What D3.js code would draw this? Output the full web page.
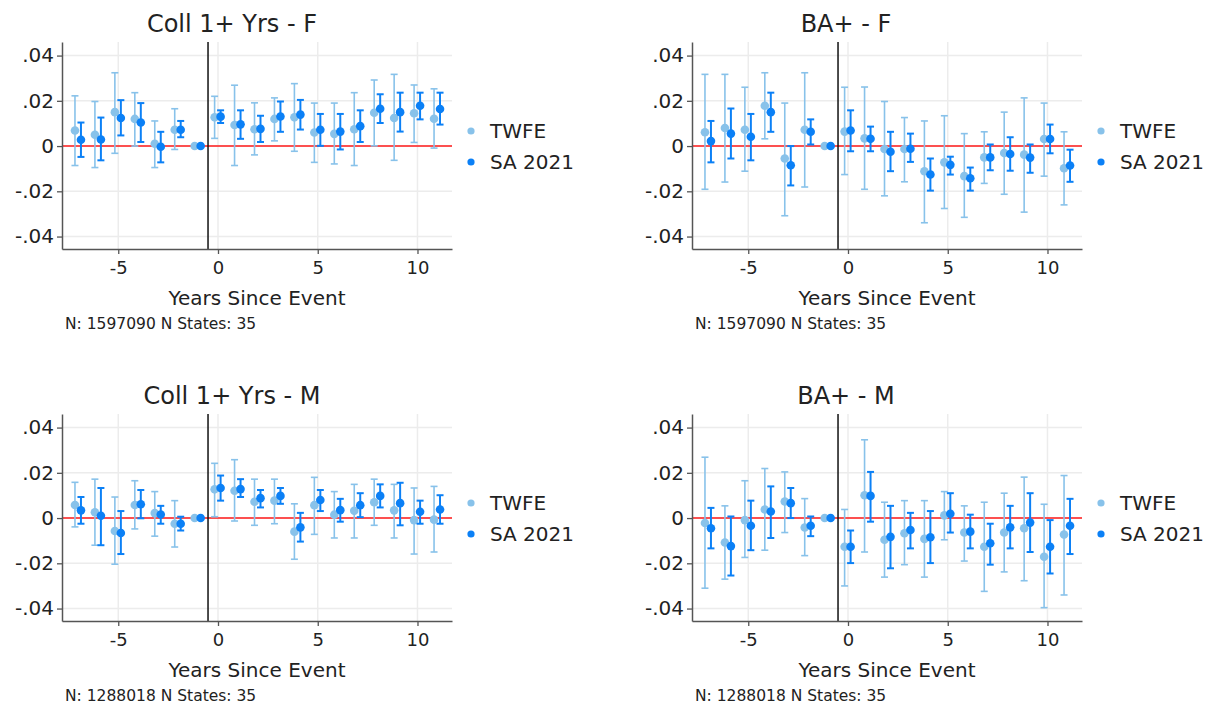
<!DOCTYPE html>
<html>
<head>
<meta charset="utf-8">
<script src="https://cdn.jsdelivr.net/npm/d3@7"></script>
<style>
  body { margin: 0; background: #fff; }
  text { font-family: "DejaVu Sans", sans-serif; fill: #222; }
</style>
</head>
<body>
<script>
// event-time grid
var years = [-7, -6, -5, -4, -3, -2, -1, 0, 1, 2, 3, 4, 5, 6, 7, 8, 9, 10, 11];
var seriesNames = ["TWFE", "SA 2021"];
var panelTitles = ["Coll 1+ Yrs - F", "BA+ - F", "Coll 1+ Yrs - M", "BA+ - M"];
var panelNotes = ["N: 1597090 N States: 35", "N: 1597090 N States: 35",
                  "N: 1288018 N States: 35", "N: 1288018 N States: 35"];
var xTickValues = [-5, 0, 5, 10];
var xTickLabels = ["-5", "0", "5", "10"];
var yTickValues = [-0.04, -0.02, 0, 0.02, 0.04];
var yTickLabels = ["-.04", "-.02", "0", ".02", ".04"];

// Coll 1+ Yrs - F
var collF_twfe    = [.0069, .0050, .0150, .0120, .0010, .0072, 0, .0127, .0093, .0074, .0120, .0127, .0060, .0054, .0074, .0147, .0124, .0145, .0121];
var collF_twfe_lo = [-.0086, -.0095, -.0032, .0000, -.0095, -.0015, null, .0034, -.0086, -.0039, .0023, -.0023, -.0072, -.0079, -.0086, .0001, -.0063, .0016, -.0009];
var collF_twfe_hi = [.0222, .0197, .0324, .0236, .0111, .0165, null, .0220, .0269, .0191, .0213, .0276, .0190, .0190, .0236, .0292, .0317, .0270, .0253];
var collF_sa      = [.0028, .0029, .0124, .0104, -.0003, .0072, 0, .0130, .0096, .0076, .0131, .0139, .0072, .0064, .0088, .0165, .0150, .0178, .0164];
var collF_sa_lo   = [-.0048, -.0063, .0047, .0018, -.0072, .0039, null, .0102, .0032, .0018, .0063, .0073, .0001, -.0015, .0018, .0102, .0064, .0118, .0095];
var collF_sa_hi   = [.0104, .0126, .0203, .0190, .0063, .0111, null, .0158, .0158, .0134, .0197, .0204, .0142, .0142, .0158, .0229, .0236, .0236, .0236];

// BA+ - F
var baF_twfe    = [.0061, .0080, .0072, .0178, -.0055, .0072, 0, .0064, .0034, -.0013, -.0013, -.0111, -.0072, -.0133, -.0050, -.0031, -.0038, .0031, -.0098];
var baF_twfe_lo = [-.0191, -.0159, -.0111, .0032, -.0308, -.0181, null, -.0126, -.0191, -.0220, -.0158, -.0339, -.0276, -.0315, -.0165, -.0213, -.0292, -.0133, -.0260];
var baF_twfe_hi = [.0317, .0317, .0260, .0324, .0190, .0324, null, .0260, .0261, .0197, .0126, .0111, .0134, .0055, .0063, .0150, .0213, .0190, .0063];
var baF_sa      = [.0022, .0055, .0041, .0150, -.0085, .0063, 0, .0069, .0032, -.0025, -.0012, -.0126, -.0083, -.0142, -.0050, -.0035, -.0051, .0031, -.0086];
var baF_sa_lo   = [-.0072, -.0055, -.0063, .0063, -.0174, .0007, null, -.0023, -.0023, -.0111, -.0070, -.0197, -.0126, -.0197, -.0107, -.0109, -.0118, -.0032, -.0158];
var baF_sa_hi   = [.0111, .0166, .0142, .0236, .0000, .0118, null, .0158, .0086, .0063, .0055, -.0055, -.0047, -.0095, .0007, .0039, .0007, .0095, -.0016];

// Coll 1+ Yrs - M
var collM_twfe    = [.0058, .0026, -.0057, .0058, .0022, -.0025, 0, .0127, .0121, .0072, .0077, -.0060, .0057, .0015, .0032, .0070, .0034, -.0009, -.0007];
var collM_twfe_lo = [-.0039, -.0120, -.0204, -.0048, -.0080, -.0128, null, .0006, -.0013, -.0032, -.0025, -.0182, -.0072, -.0088, -.0088, -.0032, -.0088, -.0159, -.0150];
var collM_twfe_hi = [.0158, .0172, .0093, .0165, .0117, .0077, null, .0242, .0258, .0172, .0172, .0063, .0180, .0117, .0149, .0172, .0149, .0133, .0140];
var collM_sa      = [.0034, .0010, -.0066, .0061, .0016, -.0025, 0, .0133, .0128, .0088, .0098, -.0041, .0080, .0035, .0057, .0098, .0066, .0028, .0038];
var collM_sa_lo   = [-.0025, -.0120, -.0159, -.0001, -.0025, -.0055, null, .0077, .0093, .0047, .0063, -.0104, .0031, -.0016, .0004, .0047, -.0032, -.0025, -.0025];
var collM_sa_hi   = [.0093, .0133, .0031, .0124, .0054, .0006, null, .0188, .0172, .0124, .0133, .0023, .0124, .0085, .0110, .0149, .0156, .0077, .0101];

// BA+ - M
var baM_twfe    = [-.0022, -.0108, -.0009, .0038, .0073, -.0042, 0, -.0127, .0101, -.0096, -.0067, -.0092, .0012, -.0064, -.0127, -.0064, -.0045, -.0171, -.0073];
var baM_twfe_lo = [-.0310, -.0270, -.0174, -.0142, -.0064, -.0166, null, -.0300, -.0150, -.0261, -.0206, -.0261, -.0096, -.0190, -.0324, -.0238, -.0277, -.0396, -.0340];
var baM_twfe_hi = [.0269, .0054, .0165, .0219, .0204, .0086, null, .0038, .0346, .0070, .0077, .0077, .0117, .0054, .0070, .0110, .0181, .0061, .0188];
var baM_sa      = [-.0045, -.0124, -.0034, .0029, .0066, -.0034, 0, -.0127, .0098, -.0083, -.0053, -.0085, .0019, -.0060, -.0111, -.0041, -.0020, -.0127, -.0034];
var baM_sa_lo   = [-.0134, -.0254, -.0142, -.0088, .0000, -.0080, null, -.0199, -.0016, -.0222, -.0134, -.0199, -.0064, -.0134, -.0206, -.0134, -.0150, -.0245, -.0159];
var baM_sa_hi   = [.0045, .0007, .0077, .0140, .0133, .0007, null, -.0055, .0204, .0054, .0023, .0031, .0110, .0015, -.0025, .0054, .0110, -.0009, .0085];

var panels = [
  {est: [collF_twfe, collF_sa], lo: [collF_twfe_lo, collF_sa_lo], hi: [collF_twfe_hi, collF_sa_hi]},
  {est: [baF_twfe, baF_sa], lo: [baF_twfe_lo, baF_sa_lo], hi: [baF_twfe_hi, baF_sa_hi]},
  {est: [collM_twfe, collM_sa], lo: [collM_twfe_lo, collM_sa_lo], hi: [collM_twfe_hi, collM_sa_hi]},
  {est: [baM_twfe, baM_sa], lo: [baM_twfe_lo, baM_sa_lo], hi: [baM_twfe_hi, baM_sa_hi]}
];

var colors = ["#88c2ea", "#0b80f6"];
var dodge = [-0.17, 0.13];

var width = 1214, height = 710;
var svg = d3.select("body").append("svg")
  .attr("width", width)
  .attr("height", height);

var colStep = 630, rowStep = 372;

panels.forEach(function(p, k) {
  var ox = (k % 2) * colStep;
  var oy = Math.floor(k / 2) * rowStep;
  var g = svg.append("g").attr("transform", "translate(" + ox + "," + oy + ")");

  var x = d3.scaleLinear().domain([-7.82, 11.73]).range([62, 452]);
  var y = d3.scaleLinear().domain([-0.0455, 0.046]).range([249, 42]);

  // grid
  g.selectAll(".hgrid").data(yTickValues).enter().append("line")
    .attr("x1", x.range()[0]).attr("x2", x.range()[1])
    .attr("y1", d => y(d)).attr("y2", d => y(d))
    .attr("stroke", "#ececec").attr("stroke-width", 1.5);
  g.selectAll(".vgrid").data(xTickValues).enter().append("line")
    .attr("x1", d => x(d)).attr("x2", d => x(d))
    .attr("y1", y.range()[0]).attr("y2", y.range()[1])
    .attr("stroke", "#ececec").attr("stroke-width", 1.5);

  // reference lines
  g.append("line")
    .attr("x1", x.range()[0]).attr("x2", x.range()[1])
    .attr("y1", y(0)).attr("y2", y(0))
    .attr("stroke", "#ff1a1a").attr("stroke-width", 1.6);
  g.append("line")
    .attr("x1", x(-0.5)).attr("x2", x(-0.5))
    .attr("y1", y.range()[0]).attr("y2", y.range()[1])
    .attr("stroke", "#111").attr("stroke-width", 1.5);

  // axes
  var xAxis = g.append("g").attr("transform", "translate(0," + y.range()[0] + ")")
    .call(d3.axisBottom(x).tickValues(xTickValues).tickSize(5).tickSizeOuter(0).tickPadding(7)
      .tickFormat((d, i) => xTickLabels[i]));
  var yAxis = g.append("g").attr("transform", "translate(" + x.range()[0] + ",0)")
    .call(d3.axisLeft(y).tickValues(yTickValues).tickSize(5).tickSizeOuter(0).tickPadding(3)
      .tickFormat((d, i) => yTickLabels[i]));
  [xAxis, yAxis].forEach(function(a) {
    a.select(".domain").attr("stroke", "#555").attr("stroke-width", 1.5);
    a.selectAll(".tick line").attr("stroke", "#555").attr("stroke-width", 1.3);
    a.selectAll(".tick text").attr("fill", "#222")
      .style("font-family", "DejaVu Sans");
  });
  xAxis.selectAll(".tick text").attr("font-size", 18);
  yAxis.selectAll(".tick text").attr("font-size", 20);

  // error bars + points
  p.est.forEach(function(est, s) {
    var col = colors[s];
    var sw = s == 0 ? 1.6 : 2;
    years.forEach(function(yr, i) {
      var cx = x(yr + dodge[s]);
      if (p.lo[s][i] != null) {
        var y1 = y(p.lo[s][i]), y2 = y(p.hi[s][i]);
        g.append("line").attr("x1", cx).attr("x2", cx).attr("y1", y1).attr("y2", y2)
          .attr("stroke", col).attr("stroke-width", sw);
        g.append("line").attr("x1", cx - 3.5).attr("x2", cx + 3.5).attr("y1", y1).attr("y2", y1)
          .attr("stroke", col).attr("stroke-width", sw);
        g.append("line").attr("x1", cx - 3.5).attr("x2", cx + 3.5).attr("y1", y2).attr("y2", y2)
          .attr("stroke", col).attr("stroke-width", sw);
      }
    });
    g.selectAll(".pt" + s).data(est).enter().append("circle")
      .attr("cx", (d, i) => x(years[i] + dodge[s]))
      .attr("cy", d => y(d))
      .attr("r", 4.3)
      .attr("fill", col);
  });

  // titles and labels
  g.append("text")
    .attr("x", k % 2 == 0 ? 232 : 216).attr("y", 32)
    .attr("text-anchor", "middle").attr("font-size", 24)
    .text(panelTitles[k]);
  g.append("text")
    .attr("x", 257).attr("y", 305)
    .attr("text-anchor", "middle").attr("font-size", 20)
    .text("Years Since Event");
  g.append("text")
    .attr("x", 65).attr("y", 329)
    .attr("font-size", 15.5)
    .text(panelNotes[k]);

  // legend
  seriesNames.forEach(function(name, s) {
    g.append("circle").attr("cx", 471).attr("cy", 131 + s * 31).attr("r", 3.6).attr("fill", colors[s]);
    g.append("text").attr("x", 490).attr("y", 138 + s * 31)
      .attr("font-size", 20).attr("fill", "#333").text(name);
  });
});
</script>
</body>
</html>
